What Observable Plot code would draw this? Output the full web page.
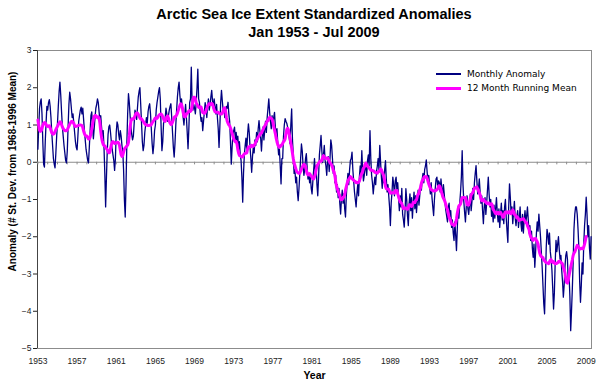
<!DOCTYPE html>
<html>
<head>
<meta charset="utf-8">
<script src="https://cdn.jsdelivr.net/npm/d3@7"></script>
<script src="https://cdn.jsdelivr.net/npm/@observablehq/plot@0.6"></script>
<style>
  html, body { margin: 0; padding: 0; background: #fff; }
  #wrap { position: relative; width: 600px; height: 384px; overflow: hidden; font-family: "Liberation Sans", Arial, sans-serif; }
  .title { position: absolute; left: 37px; width: 554px; text-align: center; font-weight: bold; font-size: 14.5px; color: #000; line-height: 17px; }
  #chart { position: absolute; left: 0; top: 40px; }
  #legend { position: absolute; left: 436px; top: 67px; font-family: "DejaVu Sans", Verdana, sans-serif; font-size: 9px; color: #000; }
  #legend .row { display: flex; align-items: center; height: 14px; }
  #legend .sw { width: 25px; margin-right: 6px; }
</style>
</head>
<body>
<div id="wrap">
  <div class="title" style="top:6px">Arctic Sea Ice Extent Standardized Anomalies</div>
  <div class="title" style="top:24px">Jan 1953 - Jul 2009</div>
  <div id="chart"></div>
  <div id="legend"></div>
</div>
<script>
const startYear = 1953;
const seriesNames = ["Monthly Anomaly", "12 Month Running Mean"];
const seriesColors = ["#000080", "#ff00ff"];
const yTicks = [3, 2, 1, 0, -1, -2, -3, -4, -5];
const xTickLabels = [1953, 1957, 1961, 1965, 1969, 1973, 1977, 1981, 1985, 1989, 1993, 1997, 2001, 2005, 2009];
const yLabel = "Anomaly (# St. Dev. from 1968-1996 Mean)";
const xLabel = "Year";

// Monthly anomaly, Jan 1953 .. Jul 2009
const anomaly = [
  0.35, 0.95, 1.45, 1.62, 1.70, 1.30, 0.55, -0.05, -0.13, 0.55, 1.05, 1.50,
  1.40, 1.60, 1.68, 1.50, 1.20, 0.80, 0.45, 0.10, -0.05, -0.15, 0.25, 0.70,
  1.05, 1.50, 1.90, 2.15, 1.80, 1.35, 0.95, 0.70, 0.45, 0.25, 0.05, -0.02,
  0.30, 0.95, 1.55, 1.88, 1.70, 1.45, 1.20, 1.30, 1.05, 0.80, 0.55, 0.40,
  0.33, 0.70, 1.10, 1.25, 1.40, 1.48, 1.30, 1.45, 1.15, 0.85, 0.60, 0.35,
  0.20, 0.05, -0.02, 0.40, 0.85, 1.25, 1.35, 0.95, 0.63, 0.90, 1.20, 1.45,
  1.55, 1.70, 1.60, 1.35, 1.10, 1.25, 0.95, 0.70, 0.85, 0.40, -0.30, -1.20,
  -0.40, 0.30, 0.75, 0.95, 1.00, 0.80, 0.55, 0.35, 0.20, 0.05, -0.22, 0.10,
  0.80, 1.08, 1.00, 0.75, 0.60, 0.85, 0.70, 0.45, 0.30, -0.20, -1.00, -1.47,
  -0.60, 0.50, 1.30, 1.84, 1.60, 1.25, 0.95, 0.75, 0.60, 0.70, 1.05, 1.40,
  1.30, 1.15, 1.45, 1.75, 1.90, 2.00, 1.55, 1.05, 0.55, 0.31, 0.45, 0.80,
  1.00, 1.20, 1.05, 1.35, 1.50, 1.57, 1.30, 0.90, 0.50, 0.23, 0.45, 0.85,
  1.00, 1.40, 1.60, 1.75, 1.90, 2.00, 1.70, 0.95, 0.31, 0.55, 1.05, 1.10,
  1.20, 1.45, 1.30, 1.10, 1.25, 1.40, 1.50, 1.57, 1.20, 0.80, 0.40, 0.14,
  0.50, 1.00, 1.40, 1.75, 2.00, 2.15, 1.80, 1.55, 1.70, 1.45, 1.20, 1.00,
  1.30, 1.55, 1.20, 0.80, 0.36, 0.90, 1.60, 1.70, 2.55, 1.60, 1.40, 1.55,
  1.45, 1.30, 1.60, 2.00, 2.50, 1.70, 1.60, 1.30, 1.10, 1.20, 0.85, 1.10,
  1.35, 1.60, 1.45, 1.20, 1.50, 1.70, 1.40, 1.55, 1.75, 1.93, 1.65, 1.45,
  1.70, 1.50, 1.30, 1.55, 1.20, 0.90, 0.40, 0.95, 1.60, 1.93, 1.65, 1.40,
  1.45, 1.20, 1.35, 1.50, 1.45, 1.61, 1.30, 1.10, 0.55, -0.05, 0.40, 0.75,
  0.85, 0.94, 0.60, 0.80, 0.50, 0.70, 0.35, 0.55, 0.20, 0.05, -0.40, -1.07,
  -0.30, 0.20, 0.45, 0.65, 0.30, 0.75, 1.03, 0.80, 0.40, 0.10, -0.27, 0.15,
  0.40, 0.25, 0.60, 0.45, 0.80, 0.55, 0.90, 1.12, 0.85, 0.65, 0.30, 0.70,
  0.95, 0.60, 0.85, 1.10, 0.80, 1.20, 1.45, 1.70, 1.35, 1.10, 0.90, 1.25,
  1.05, 1.20, 1.34, 0.95, 0.70, 0.90, 0.50, 0.20, 0.35, -0.10, -0.58, 0.10,
  0.10, 0.70, 1.00, 1.17, 1.10, 1.05, 0.95, 0.80, 0.65, 0.50, 1.00, 1.43,
  0.60, 0.20, -0.30, -0.20, -0.55, -0.40, -0.80, -1.03, -0.70, -0.30, 0.10, 0.49,
  0.30, -0.10, -0.35, -0.20, 0.10, 0.23, -0.15, -0.45, -0.30, -0.55, -0.40, -0.70,
  -0.85, -0.50, -0.20, 0.10, -0.30, -0.10, -0.60, -0.90, -0.40, 0.20, 0.45, 0.72,
  0.30, 0.00, 0.20, 0.45, 0.05, -0.10, -0.35, 0.05, 0.15, -0.25, 0.10, 0.60,
  0.45, 0.10, -0.30, -0.10, -0.55, -0.35, -0.80, -0.60, -0.95, -0.70, -1.10, -1.39,
  -1.00, -0.75, -1.10, -0.85, -1.25, -1.47, -0.90, -0.55, -0.30, -0.60, -0.20, 0.05,
  0.10, 0.27, -0.20, -0.50, -0.80, -1.00, -1.20, -0.85, -0.60, -0.90, -0.40, -0.10,
  -0.30, 0.31, -0.20, -0.50, -0.35, -0.10, -0.15, -0.35, 0.05, 0.20, -0.10, 0.85,
  0.10, -0.35, -0.55, -0.85, -0.60, -0.40, -0.60, -0.25, -0.10, 0.10, -0.20, 0.45,
  0.00, -0.40, -0.70, -0.35, -0.55, -0.20, 0.04, -0.45, -0.80, -0.60, -0.90, -1.20,
  -1.70, -1.10, -0.80, -0.40, -0.60, -0.90, -0.50, -0.40, -0.75, -0.55, -0.95, -1.30,
  -0.90, -1.20, -0.70, -1.40, -1.55, -1.74, -1.30, -0.71, -1.00, -1.45, -1.70, -1.10,
  -0.85, -1.30, -0.95, -1.50, -1.10, -0.80, -1.25, -0.90, -1.35, -1.05, -0.75, -1.15,
  -0.90, -0.60, -0.75, -0.45, -0.30, -0.55, -0.20, -0.10, 0.06, -0.25, -0.50, -0.35,
  -0.60, -0.85, -0.55, -0.95, -1.20, -1.43, -1.00, -0.70, -0.45, -0.40, -0.65, -0.50,
  -0.55, -0.80, -0.45, -0.70, -0.95, -0.60, -0.85, -1.10, -1.30, -1.45, -1.60, -1.20,
  -1.10, -1.45, -1.30, -1.75, -1.55, -1.90, -2.10, -1.60, -1.95, -2.37, -1.80, -1.20,
  -1.50, -1.10, -0.80, -0.40, 0.31, -0.60, -1.05, -1.35, -1.60, -1.20, -0.90, -1.25,
  -1.40, -1.15, -0.85, -1.30, -1.05, -0.70, -1.00, -0.55, -0.30, -0.09, -0.50, -0.85,
  -0.70, -0.45, -0.80, -1.10, -0.90, -1.30, -1.65, -1.20, -0.95, -1.40, -1.10, -0.75,
  -0.40, -0.85, -1.20, -1.00, -1.45, -1.30, -1.60, -1.15, -1.50, -1.25, -0.95, -1.35,
  -1.60, -1.25, -1.75, -1.40, -1.10, -1.55, -1.30, -1.65, -1.20, -1.00, -1.50, -1.85,
  -2.15, -1.20, -0.58, -0.95, -1.40, -1.20, -1.65, -1.35, -1.05, -1.50, -1.70, -1.45,
  -1.30, -1.75, -1.50, -1.20, -1.65, -1.85, -1.40, -1.90, -1.55, -1.30, -1.60, -1.45,
  -1.20, -1.55, -1.90, -1.70, -2.10, -1.85, -2.30, -2.55, -2.20, -2.82, -2.40, -1.90,
  -1.60, -1.85, -1.39, -1.70, -2.00, -2.40, -2.80, -3.30, -3.80, -4.07, -3.20, -2.30,
  -1.80, -1.95, -2.20, -1.90, -2.40, -2.60, -2.90, -3.40, -3.94, -3.50, -2.70, -2.10,
  -2.40, -2.20, -2.00, -2.35, -2.60, -2.50, -2.90, -3.20, -3.62, -3.30, -2.80, -2.50,
  -2.40, -2.60, -3.20, -3.00, -3.60, -4.52, -4.00, -3.40, -2.70, -1.80, -1.40, -1.20,
  -1.20, -1.40, -1.80, -2.30, -3.20, -3.76, -3.30, -2.70, -3.00, -2.20, -1.70, -1.40,
  -0.94, -1.40, -2.00, -1.70, -2.30, -2.60, -2.00
];

const data = anomaly.map((v, i) => ({ t: startYear + i / 12, v }));
const lastT = startYear + (anomaly.length - 1) / 12;
const yearTicks = d3.range(startYear, Math.floor(lastT) + 1);
const meanWindow = 12;

const chart = Plot.plot({
  width: 600,
  height: 344,
  marginLeft: 37,
  marginRight: 9,
  marginTop: 10,
  marginBottom: 36,
  style: { fontFamily: "'Liberation Sans', Arial, sans-serif", fontSize: "8.5px", color: "#222", background: "#fff", overflow: "visible" },
  x: { domain: [startYear - 1 / 24, lastT + 1 / 24], ticks: xTickLabels, tickFormat: d => String(d), tickSize: 0, tickPadding: 9, label: null },
  y: { domain: [-5, 3], ticks: yTicks, tickSize: 4, tickPadding: 2, label: null },
  marks: [
    Plot.frame({ stroke: "#8c8c8c" }),
    Plot.ruleX([startYear - 1 / 24], { stroke: "#444" }),
    Plot.ruleY([0], { stroke: "#8c8c8c" }),
    Plot.ruleX(yearTicks, { x: d => d, y1: 0, y2: -0.07, stroke: "#8c8c8c" }),
    Plot.line(data, { x: "t", y: "v", stroke: seriesColors[0], strokeWidth: 1.3 }),
    Plot.line(data, Plot.filter((d, i) => i < anomaly.length - meanWindow / 2,
      Plot.windowY({ k: meanWindow, anchor: "middle", reduce: "mean" }, { x: "t", y: "v", stroke: seriesColors[1], strokeWidth: 3 }))),
    Plot.text([yLabel], { text: d => d, frameAnchor: "left", textAnchor: "middle", rotate: -90, dx: -25, dy: -28, fontWeight: "bold", fontSize: 10, fill: "#000" }),
    Plot.text([xLabel], { text: d => d, frameAnchor: "bottom", textAnchor: "middle", dy: 30, fontWeight: "bold", fontSize: 10.5, fill: "#000" })
  ]
});
document.getElementById("chart").appendChild(chart);

const legend = document.getElementById("legend");
seriesNames.forEach((name, i) => {
  const row = document.createElement("div");
  row.className = "row";
  const sw = document.createElement("span");
  sw.className = "sw";
  sw.style.borderTop = (i === 0 ? 2 : 3) + "px solid " + seriesColors[i];
  const tx = document.createElement("span");
  tx.textContent = name;
  row.appendChild(sw);
  row.appendChild(tx);
  legend.appendChild(row);
});
</script>
</body>
</html>
